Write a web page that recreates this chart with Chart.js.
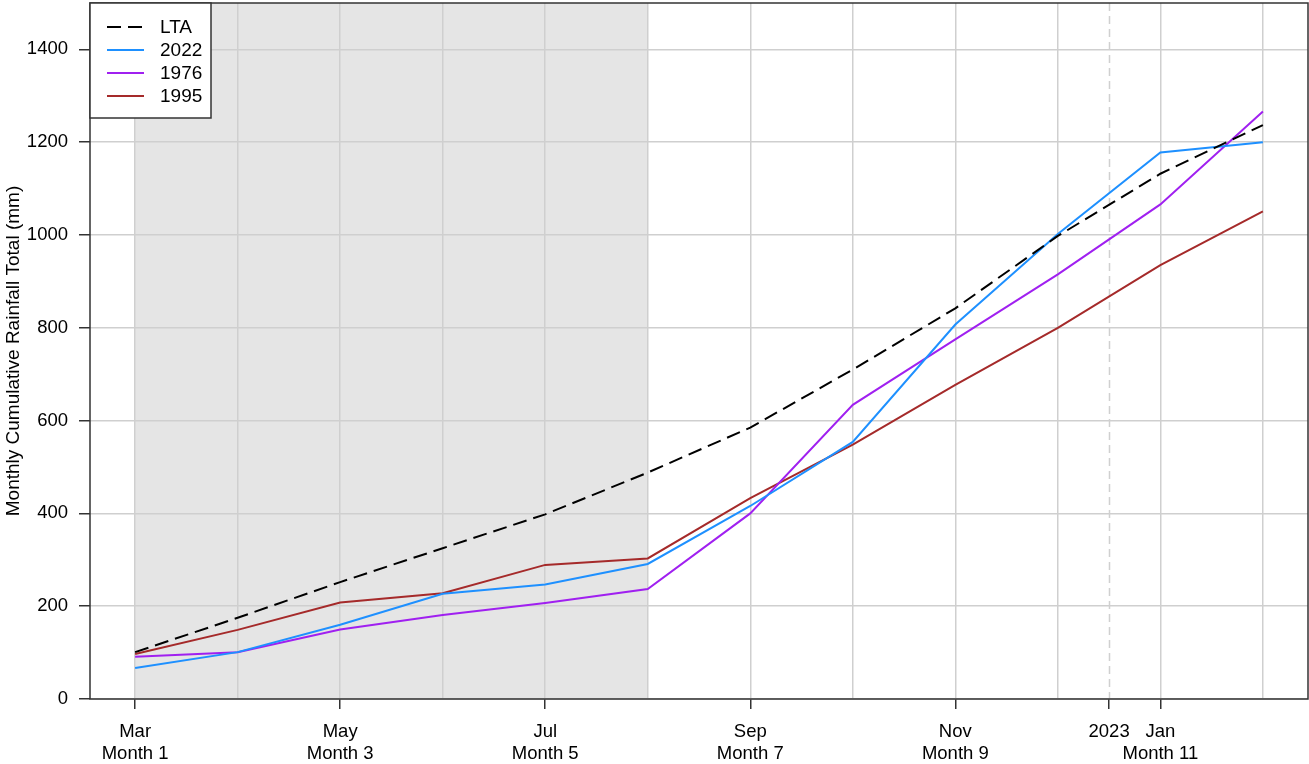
<!DOCTYPE html>
<html><head><meta charset="utf-8">
<script src="https://cdn.jsdelivr.net/npm/chart.js@4"></script>
<style>html,body{margin:0;padding:0;background:#fff}#wrap{width:1309px;height:764px}</style>
</head><body><div id="wrap"><canvas id="c" width="1309" height="764"></canvas></div>
<script>
// ---- data ----
const months = ['Mar','Apr','May','Jun','Jul','Aug','Sep','Oct','Nov','Dec','Jan','Feb'];
const monthNumbers = [1,2,3,4,5,6,7,8,9,10,11,12];
const seriesLabels = ['LTA','2022','1976','1995'];
const lta   = [101,175,252,325,398,488,585,710,842,998,1132,1237];
const y2022 = [67,101,160,227,247,291,416,554,807,1002,1178,1200];
const y1976 = [91,101,150,181,207,237,400,634,775,915,1066,1266];
const y1995 = [97,149,208,228,289,303,433,548,677,800,935,1051];
const yTickValues = [0,200,400,600,800,1000,1200,1400];
const yearMarkValue = 10.5;      // start of 2023
const yearMarkLabel = '2023';
const shadeFrom = 1, shadeTo = 6; // shaded months Mar..Aug
const yTitle = 'Monthly Cumulative Rainfall Total (mm)';

const FONT = "'Liberation Sans', Arial, sans-serif";
const pts = arr => arr.map((v,i)=>({x:monthNumbers[i], y:v}));

const decor = {
  id:'decor',
  beforeDraw(chart){
    const {ctx, chartArea:a, scales:{x,y}} = chart;
    ctx.save();
    ctx.fillStyle = '#e5e5e5';
    const x0 = x.getPixelForValue(shadeFrom), x1 = x.getPixelForValue(shadeTo);
    ctx.fillRect(x0, a.top, x1-x0, a.bottom-a.top);
    ctx.restore();
  },
  beforeDatasetsDraw(chart){
    const {ctx, chartArea:a, scales:{x}} = chart;
    ctx.save();
    ctx.strokeStyle = '#d0d0d0';
    ctx.lineWidth = 1.5;
    ctx.setLineDash([8,5]);
    const px = Math.round(x.getPixelForValue(yearMarkValue))+0.5;
    ctx.beginPath(); ctx.moveTo(px, a.top); ctx.lineTo(px, a.bottom); ctx.stroke();
    ctx.restore();
  },
  afterDatasetsDraw(chart){
    const {ctx, chartArea:a} = chart;
    ctx.save();
    ctx.strokeStyle = '#333';
    ctx.lineWidth = 1.5;
    ctx.strokeRect(a.left, a.top, a.right-a.left, a.bottom-a.top);
    // legend
    const lx = a.left, ly = a.top, lw = 121, lh = 115;
    ctx.fillStyle = '#fff';
    ctx.fillRect(lx, ly, lw, lh);
    ctx.strokeRect(lx, ly, lw, lh);
    ctx.font = '19px ' + FONT;
    ctx.textBaseline = 'middle';
    chart.data.datasets.forEach((ds,i)=>{
      const yy = ly + 24 + i*23;
      ctx.strokeStyle = ds.borderColor;
      ctx.lineWidth = ds.borderWidth;
      ctx.setLineDash(ds.borderDash || []);
      ctx.beginPath(); ctx.moveTo(lx+17, yy); ctx.lineTo(lx+54, yy); ctx.stroke();
      ctx.setLineDash([]);
      ctx.fillStyle = '#000';
      ctx.fillText(ds.label, lx+70, yy+1);
    });
    ctx.restore();
  }
};

new Chart(document.getElementById('c'), {
  type:'line',
  data:{datasets:[
    {label:seriesLabels[0], data:pts(lta),   borderColor:'#000000', borderDash:[14,7], borderWidth:2, pointRadius:0, tension:0},
    {label:seriesLabels[1], data:pts(y2022), borderColor:'#1E90FF', borderWidth:2, pointRadius:0, tension:0},
    {label:seriesLabels[2], data:pts(y1976), borderColor:'#A020F0', borderWidth:2, pointRadius:0, tension:0},
    {label:seriesLabels[3], data:pts(y1995), borderColor:'#A52A2A', borderWidth:2, pointRadius:0, tension:0}
  ]},
  options:{
    responsive:false, animation:false,
    layout:{padding:{top:3,right:1,left:0,bottom:0}},
    plugins:{legend:{display:false}, tooltip:{enabled:false}},
    scales:{
      x:{
        type:'linear', min:0.56, max:12.44,
        afterBuildTicks(s){ s.ticks = monthNumbers.concat([yearMarkValue]).sort((a,b)=>a-b).map(v=>({value:v})); },
        afterFit(s){ s.height = 65; s.paddingLeft = 0; s.paddingRight = 0; },
        border:{display:false},
        grid:{
          color: c => (c.tick && c.tick.value===yearMarkValue) ? 'rgba(0,0,0,0)' : '#cfcfcf',
          lineWidth:1.5,
          tickLength:10,
          tickWidth:1.5,
          tickColor: c => (c.tick && (c.tick.value===yearMarkValue || c.tick.value%2===1)) ? '#333' : 'rgba(0,0,0,0)'
        },
        ticks:{
          autoSkip:false, maxRotation:0, minRotation:0, padding:12, color:'#000',
          font:{family:FONT, size:18.5, lineHeight:1.19},
          callback(v){
            if (v===yearMarkValue) return yearMarkLabel;
            if (v%2===1) return [months[v-1], 'Month ' + v];
            return '';
          }
        }
      },
      y:{
        min:0, max:1500,
        afterBuildTicks(s){ s.ticks = yTickValues.map(v=>({value:v})); },
        afterFit(s){ s.width = 90; s.paddingTop = 0; s.paddingBottom = 0; },
        border:{display:false},
        grid:{color:'#cfcfcf', lineWidth:1.5, tickLength:11, tickWidth:1.5, tickColor:'#333'},
        ticks:{padding:11, color:'#000', font:{family:FONT, size:18.5}, callback:v=>String(v)},
        title:{display:true, text:yTitle, color:'#000', font:{family:FONT, size:19}, padding:{top:2,bottom:0}}
      }
    }
  },
  plugins:[decor]
});
</script></body></html>
